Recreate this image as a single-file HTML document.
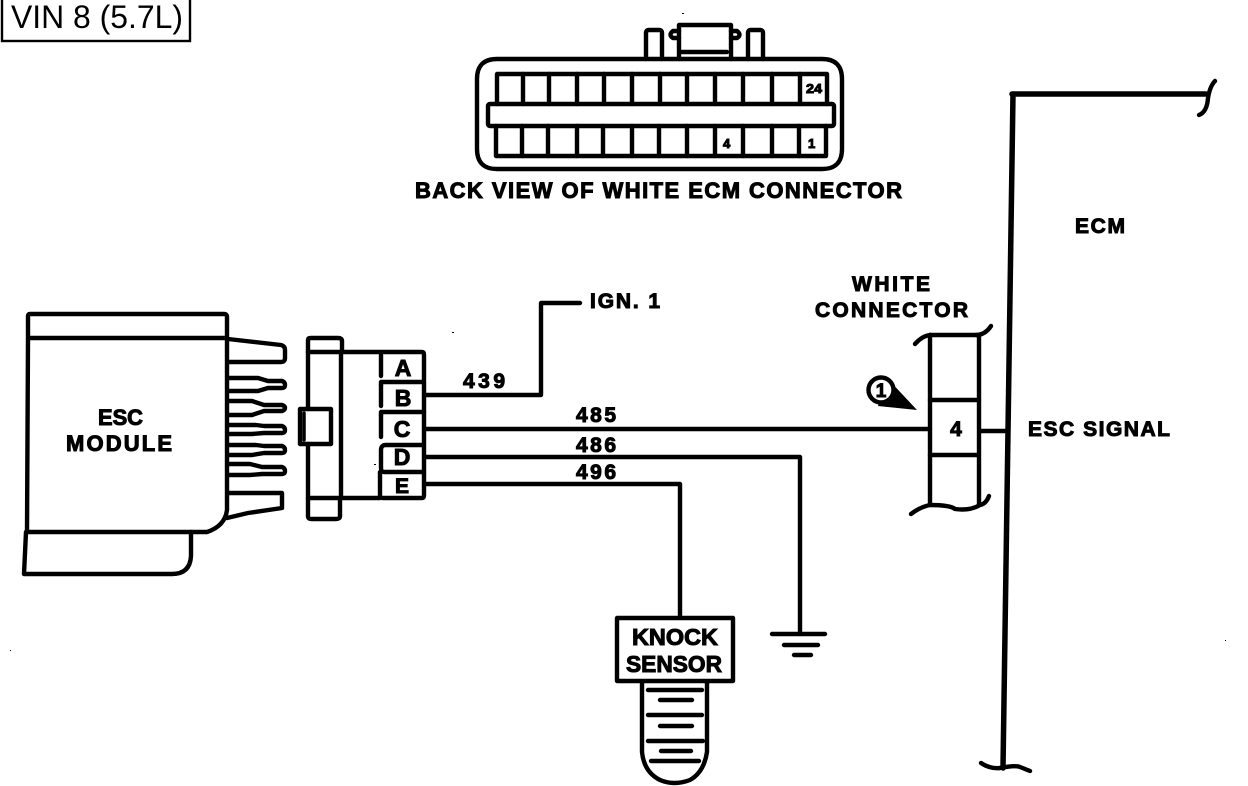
<!DOCTYPE html>
<html>
<head>
<meta charset="utf-8">
<style>
html,body{margin:0;padding:0;background:#fff;width:1248px;height:786px;overflow:hidden}
svg{display:block}
.l{fill:none;stroke:#000;stroke-width:4.4;stroke-linejoin:round;stroke-linecap:round}
.t{stroke-width:3.5}
text{font-family:"Liberation Sans",sans-serif;font-weight:bold;fill:#000;stroke:#000;stroke-width:1}
</style>
</head>
<body>
<svg width="1248" height="786" viewBox="0 0 1248 786" xmlns="http://www.w3.org/2000/svg">
<!-- VIN label -->
<rect x="2" y="-3" width="188" height="44" fill="#fff" stroke="#000" stroke-width="2.4"/>
<text x="11" y="28" font-size="32" textLength="172" lengthAdjust="spacingAndGlyphs" style="font-weight:normal;stroke:none">VIN 8 (5.7L)</text>

<!-- ECM connector -->
<g class="l">
<path d="M646 59V33q0-3 3-3h10q3 0 3 3V59"/>
<path d="M748 59V33q0-3 3-3h9q3 0 3 3V59"/>
<path d="M679 59V25H731V59"/>
<path d="M681 52H727"/>
<path d="M679 31H673Q668 35 673 38H679M731 31H737Q742 35 737 38H731"/>
<path d="M497 59H822Q842 59 842 79V149Q842 169 822 169H497Q477 169 477 149V79Q477 59 497 59Z"/>
<rect x="488" y="104" width="346" height="22" rx="2"/>
<path d="M497 104V74H827V104"/>
<path d="M496 126V156H826V126"/>
<path d="M523 74V104M549 74V104M577 74V104M604 74V104M632 74V104M660 74V104M687 74V104M715 74V104M743 74V104M772 74V104M800 74V104"/>
<path d="M522 126V156M548 126V156M577 126V156M603 126V156M632 126V156M659 126V156M687 126V156M715 126V156M743 126V156M772 126V156M799 126V156"/>
</g>
<text x="806" y="93" font-size="13" textLength="16" lengthAdjust="spacingAndGlyphs">24</text>
<text x="723" y="148" font-size="13">4</text>
<text x="808" y="148" font-size="13">1</text>
<text x="415" y="198" font-size="22" textLength="487" lengthAdjust="spacing">BACK VIEW OF WHITE ECM CONNECTOR</text>

<!-- ESC module -->
<g class="l">
<path d="M28 338V316Q28 314 30 314H224Q227 314 227 317V510Q225 526 207 532H27L28 338H227"/>
<path d="M26 532L24 574H172Q190 574 191 556V532"/>
<path d="M228 339L281 345Q285 346 285 350V358Q285 362 281 362H228"/>
<path d="M228 378H258L268 381H282Q285 382 285 385T282 388H268L258 391H228"/>
<path d="M228 401H252L264 405H282Q285 406 285 408T282 411H264L252 415H228"/>
<path d="M228 425H256L264 426H282Q285 427 285 430T282 433H264L252 434H228"/>
<path d="M228 445H256L264 446H282Q285 447 285 450T282 453H264L252 455H228"/>
<path d="M228 464H250L262 467H282Q285 468 285 471T282 474H262L250 475H228"/>
<path d="M228 493H282V508L248 513L227 518"/>
</g>
<text x="98" y="425" font-size="22" textLength="45" lengthAdjust="spacingAndGlyphs">ESC</text>
<text x="66" y="451" font-size="22" textLength="106" lengthAdjust="spacing">MODULE</text>

<!-- mating connector -->
<g class="l">
<path d="M308 352V340Q308 338 311 338H338Q342 338 342 341V352"/>
<path d="M308 498V516Q308 519 311 519H336Q340 519 340 516V498"/>
<path d="M308 352H422Q424 352 424 355V380"/>
<path d="M308 352V409M308 444V498H380"/>
<path d="M341 352V498"/>
<rect x="300" y="409" width="31" height="35"/>
<path d="M304 413V440" class="l t"/>
<path d="M381 355V376"/>
<path d="M381 385V382H424V382"/>
<path d="M381 385V406"/>
<path d="M381 415V412H424V382"/>
<path d="M381 415V437"/>
<path d="M424 412V444Q424 445 421 445H386Q381 445 381 450V468Q381 472 384 472H424V445"/>
<path d="M380 472V495Q380 498 383 498H422Q424 498 424 495V472"/>
</g>
<text x="403" y="376" font-size="23" text-anchor="middle">A</text>
<text x="403" y="406" font-size="23" text-anchor="middle">B</text>
<text x="402" y="437" font-size="23" text-anchor="middle">C</text>
<text x="402" y="465" font-size="23" text-anchor="middle">D</text>
<text x="402" y="493" font-size="21" text-anchor="middle">E</text>

<!-- wires -->
<g class="l">
<path d="M426 395H541V303H580"/>
<path d="M426 429H930"/>
<path d="M426 457H800V634"/>
<path d="M426 484H680V617"/>
<path d="M980 431H1005"/>
</g>
<text x="463" y="388" font-size="21" textLength="42" lengthAdjust="spacing">439</text>
<text x="576" y="422" font-size="21" textLength="40" lengthAdjust="spacing">485</text>
<text x="576" y="452" font-size="21" textLength="40" lengthAdjust="spacing">486</text>
<text x="576" y="479" font-size="21" textLength="40" lengthAdjust="spacing">496</text>
<text x="590" y="308" font-size="21" textLength="70" lengthAdjust="spacing">IGN. 1</text>

<!-- ground -->
<g class="l">
<path d="M772 634H825"/>
<path d="M784 645H818"/>
<path d="M794 655H811"/>
</g>

<!-- knock sensor -->
<g class="l">
<rect x="617" y="618" width="116" height="63"/>
<path d="M642 682V752Q644 772 660 780Q674 786 690 780Q704 772 707 752V682" />
<path d="M648 690H702M660 700H692M648 715H702M660 726H692M648 741H703M661 751H691M651 761H699" />
</g>
<text x="632" y="645" font-size="23" textLength="86" lengthAdjust="spacingAndGlyphs">KNOCK</text>
<text x="626" y="672" font-size="23" textLength="96" lengthAdjust="spacingAndGlyphs">SENSOR</text>

<!-- white connector -->
<g class="l">
<path d="M930 335V505"/>
<path d="M979 335V505"/>
<path d="M930 335H979"/>
<path d="M930 400H979"/>
<path d="M930 455H978"/>
<path d="M915 344Q922 336 930 335M976 335Q985 335 991 326"/>
<path d="M911 514Q920 507 930 505Q950 505 955 509Q970 511 980 505Q986 504 989 496"/>
</g>
<path d="M887 378L917 410L878 406Z" fill="#000"/>
<circle cx="881" cy="390" r="12.5" fill="#fff" stroke="#000" stroke-width="4.4"/>
<text x="881" y="397" font-size="19" text-anchor="middle">1</text>
<text x="956" y="436" font-size="21" text-anchor="middle">4</text>
<text x="852" y="291" font-size="21" textLength="78" lengthAdjust="spacing">WHITE</text>
<text x="815" y="317" font-size="21" textLength="153" lengthAdjust="spacing">CONNECTOR</text>

<!-- ECM bus -->
<g class="l">
<path d="M1012 94H1206" style="stroke-width:5.5"/>
<path d="M1013 94L1003 768" style="stroke-width:5.5"/>
<path d="M1199 115Q1207 112 1208 98Q1210 86 1215 81"/>
<path d="M981 763Q990 769 1000 768Q1015 765 1020 767L1030 771"/>
</g>
<text x="1075" y="233" font-size="21" textLength="50" lengthAdjust="spacing">ECM</text>
<text x="1028" y="436" font-size="21" textLength="142" lengthAdjust="spacing">ESC SIGNAL</text>

<!-- specks -->
<g fill="#000">
<rect x="452" y="332" width="2" height="1"/>
<rect x="374" y="464" width="2" height="1"/>
<rect x="682" y="13" width="2" height="1"/>
<rect x="10" y="650" width="1" height="1"/>
<rect x="1225" y="640" width="1" height="1"/>
</g>
</svg>
</body>
</html>
